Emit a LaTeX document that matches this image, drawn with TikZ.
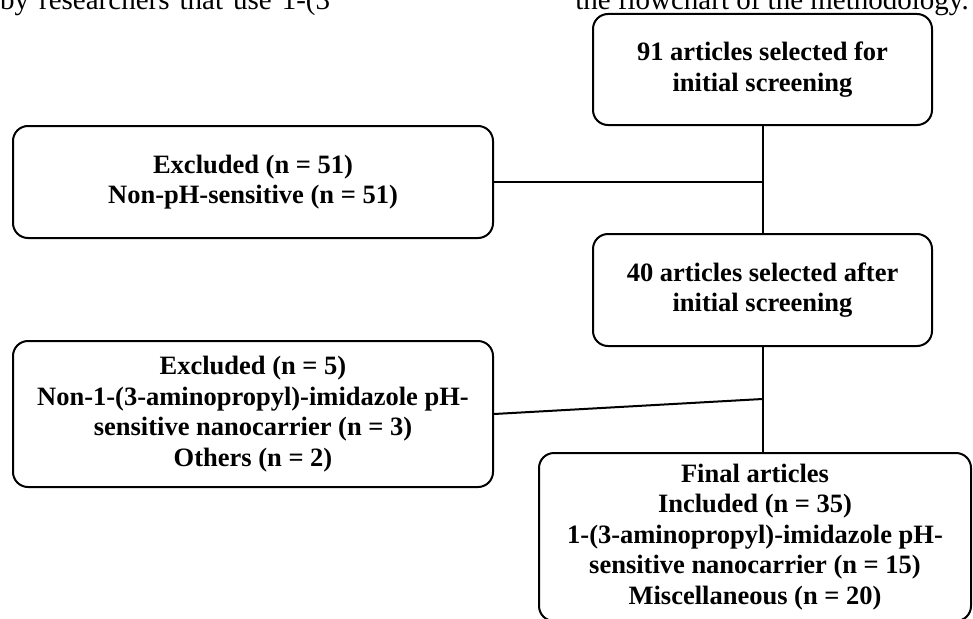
\documentclass[tikz,border=0pt]{standalone}
\usepackage{fontspec}
\setmainfont{Liberation Serif}
\begin{document}
\begin{tikzpicture}[x=1pt,y=-1pt,
  box/.style={draw=black, line width=2pt, rounded corners=15pt, align=center,
    font=\bfseries\fontsize{26.5}{30.5}\selectfont, inner sep=0pt},
  conn/.style={line width=2pt},
  bodytext/.style={font=\fontsize{29}{32}\selectfont, inner sep=0pt}]
\useasboundingbox (0,0) rectangle (973,618);
\clip (0,0) rectangle (973,618);
\node[bodytext, anchor=base west] (t1) at (0,10) {by\hspace{10pt}researchers\hspace{10pt}that\hspace{10pt}use\hspace{10pt}1-(3};
\node[bodytext, anchor=base east] (t2) at (969,10) {the flowchart of the methodology.};
\node[box, minimum width=339pt, minimum height=111pt] (b1) at (762.5,69.5)
  {91 articles selected for\\initial screening};
\node[box, minimum width=480pt, minimum height=112pt] (b2) at (253,182)
  {Excluded (n = 51)\\Non-pH-sensitive (n = 51)};
\node[box, minimum width=339pt, minimum height=112pt] (b3) at (762.5,290)
  {40 articles selected after\\initial screening};
\node[box, minimum width=480pt, minimum height=146pt] (b4) at (253,414)
  {Excluded (n = 5)\\Non-1-(3-aminopropyl)-imidazole pH-\\sensitive nanocarrier (n = 3)\\Others (n = 2)};
\node[box, minimum width=432pt, minimum height=168pt] (b5) at (755,537)
  {Final articles\\Included (n = 35)\\1-(3-aminopropyl)-imidazole pH-\\sensitive nanocarrier (n = 15)\\Miscellaneous (n = 20)};
\coordinate (j2) at (762.5,399);
\draw[conn] (b1.south) -- (b3.north);
\draw[conn] (b2.east) -- (b2.east -| b1.south);
\draw[conn] (b3.south) -- (b3.south |- b5.north);
\draw[conn] (b4.east) -- (j2);
\end{tikzpicture}
\end{document}
